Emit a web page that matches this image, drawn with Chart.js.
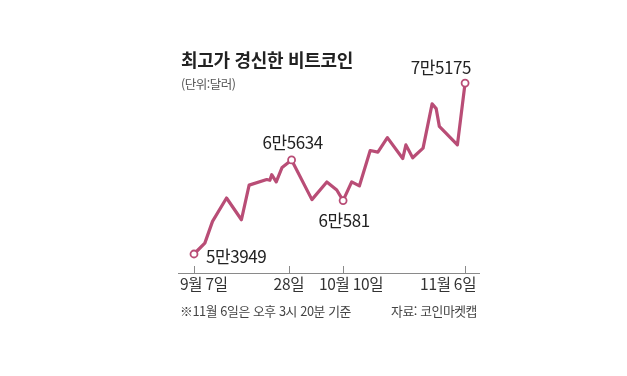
<!DOCTYPE html>
<html lang="ko">
<head>
<meta charset="utf-8">
<script src="https://cdn.jsdelivr.net/npm/chart.js@4/dist/chart.umd.min.js"></script>
<style>
  html, body { margin: 0; padding: 0; background: #fff; }
  body { width: 627px; height: 376px; position: relative; overflow: hidden;
         font-family: 'Noto Sans CJK KR', 'Noto Sans', sans-serif; }
  #chart { position: absolute; left: 0; top: 0; }
  .txt { position: absolute; white-space: nowrap; line-height: 1; }
  #title { left: 181px; top: 50px; font-size: 18px; font-weight: bold; color: #222; letter-spacing: -0.3px; }
  #unit { left: 181px; top: 78px; font-size: 12.5px; color: #555; letter-spacing: -0.5px; }
  #note { left: 180px; top: 305px; font-size: 12.8px; color: #444; letter-spacing: -0.4px; }
  #source { right: 150px; top: 305px; font-size: 12.8px; color: #444; letter-spacing: -0.4px; }
</style>
</head>
<body>
<canvas id="chart" width="627" height="376"></canvas>
<div class="txt" id="title">최고가 경신한 비트코인</div>
<div class="txt" id="unit">(단위:달러)</div>
<div class="txt" id="note">※11월 6일은 오후 3시 20분 기준</div>
<div class="txt" id="source">자료: 코인마켓캡</div>
<script>
// days after Sep 7 and price in dollars
const days = [0, 2.4, 4.1, 7.2, 10.5, 12.2, 16.1, 16.8, 17.2, 18.2, 19.5, 21.6,
  26.1, 29.4, 31.6, 33, 34.9, 36.6, 39, 40.7, 42.8, 46.2, 46.9, 48.4, 50.7,
  52.7, 53.6, 54.3, 58.3, 60];
const prices = [53949, 55300, 58000, 60900, 58200, 62500, 63200, 63100, 63800, 62900, 64700, 65634,
  60700, 62900, 61900, 60581, 62900, 62400, 66800, 66600, 68400, 65800, 67500, 65900, 67100,
  72600, 72000, 69800, 67500, 75175];

const tickDays = [0, 21, 33, 60];
const tickLabels = ['9월 7일', '28일', '10월 10일', '11월 6일'];

const markedIdx = [0, 11, 15, 29];
const markedLabels = ['5만3949', '6만5634', '6만581', '7만5175'];

const lineColor = '#b94d76';
const fontFamily = "'Noto Sans CJK KR', 'Noto Sans', sans-serif";

// axis line, tick marks, tick labels and value labels
const decorations = {
  id: 'decorations',
  afterDatasetsDraw(chart) {
    const ctx = chart.ctx;
    const xs = chart.scales.x;
    const ys = chart.scales.y;
    const base = chart.chartArea.bottom;

    ctx.save();
    ctx.strokeStyle = '#8a8a8a';
    ctx.lineWidth = 1;
    ctx.beginPath();
    ctx.moveTo(chart.chartArea.left, base + 0.5);
    ctx.lineTo(chart.chartArea.right, base + 0.5);
    tickDays.forEach(d => {
      const x = Math.round(xs.getPixelForValue(d)) + 0.5;
      ctx.moveTo(x, base);
      ctx.lineTo(x, base - 7);
    });
    ctx.stroke();

    ctx.fillStyle = '#333';
    ctx.font = '15.5px ' + fontFamily;
    ctx.letterSpacing = '-0.3px';
    ctx.textBaseline = 'middle';
    tickDays.forEach((d, i) => {
      const x = xs.getPixelForValue(d);
      if (i === 0) {
        ctx.textAlign = 'left';
        ctx.fillText(tickLabels[i], x - 14, base + 11);
      } else if (i === tickDays.length - 1) {
        ctx.textAlign = 'right';
        ctx.fillText(tickLabels[i], x + 11, base + 11);
      } else if (i === 2) {
        ctx.textAlign = 'center';
        ctx.fillText(tickLabels[i], x + 8, base + 11);
      } else {
        ctx.textAlign = 'center';
        ctx.fillText(tickLabels[i], x, base + 11);
      }
    });

    ctx.fillStyle = '#222';
    ctx.font = '17px ' + fontFamily;
    ctx.letterSpacing = '-0.4px';
    markedIdx.forEach((idx, i) => {
      const x = xs.getPixelForValue(days[idx]);
      const y = ys.getPixelForValue(prices[idx]);
      if (i === 0) {
        ctx.textAlign = 'left';
        ctx.fillText(markedLabels[i], x + 12, y + 3);
      } else if (i === 1) {
        ctx.textAlign = 'center';
        ctx.fillText(markedLabels[i], x + 1, y - 17);
      } else if (i === 2) {
        ctx.textAlign = 'center';
        ctx.fillText(markedLabels[i], x + 1, y + 20);
      } else {
        ctx.textAlign = 'right';
        ctx.fillText(markedLabels[i], x + 6, y - 16);
      }
    });
    ctx.restore();
  }
};

new Chart(document.getElementById('chart'), {
  type: 'line',
  data: {
    datasets: [{
      data: days.map((d, i) => ({ x: d, y: prices[i] })),
      borderColor: lineColor,
      borderWidth: 3.2,
      borderJoinStyle: 'round',
      borderCapStyle: 'round',
      tension: 0,
      fill: false,
      clip: false,
      pointRadius: ctx => markedIdx.includes(ctx.dataIndex) ? 3.5 : 0,
      pointBackgroundColor: '#fff',
      pointBorderColor: lineColor,
      pointBorderWidth: 1.8
    }]
  },
  options: {
    responsive: false,
    animation: false,
    events: [],
    layout: { padding: { left: 178, right: 147, top: 60, bottom: 103 } },
    plugins: {
      legend: { display: false },
      tooltip: { enabled: false }
    },
    scales: {
      x: { type: 'linear', display: false, min: -3.54, max: 63.3 },
      y: { type: 'linear', display: false, min: 51590, max: 78040 }
    }
  },
  plugins: [decorations]
});
</script>
</body>
</html>
